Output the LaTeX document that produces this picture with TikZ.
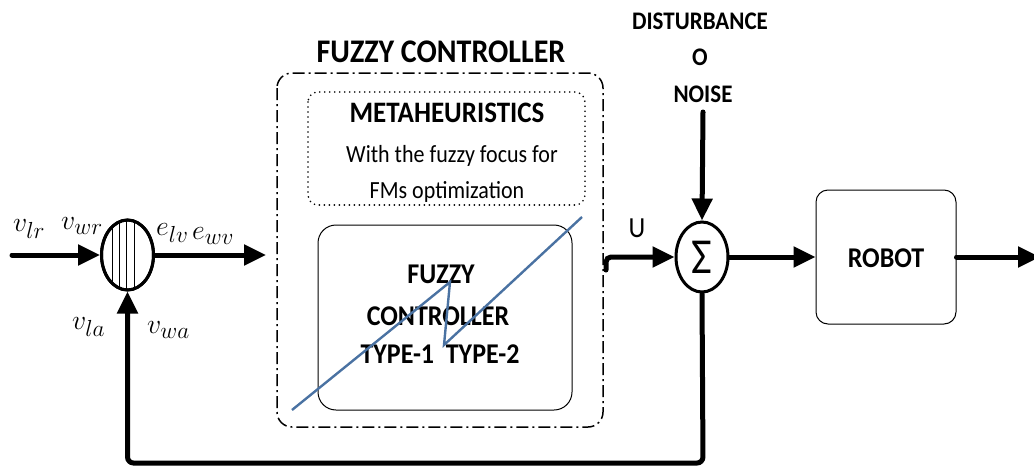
\documentclass[tikz,border=0pt]{standalone}
\usepackage{fontspec}
\setmainfont{Carlito}
\usetikzlibrary{arrows.meta,shapes.geometric}
\definecolor{zigblue}{RGB}{74,114,162}
\tikzset{
  flow/.style={line width=5pt, line cap=round, -{Triangle[length=22pt,width=20pt]}},
  junction/.style={ellipse, draw, line width=3pt, minimum width=52pt, minimum height=70pt, inner sep=0pt},
  sym/.style={font=\fontsize{24.88}{28}\selectfont, inner sep=0pt, scale=1.12, anchor=west},
  bigbold/.style={font=\bfseries\fontsize{#1}{#1}\selectfont, inner sep=0pt, anchor=base, yscale=1.1},
  plain/.style={font=\fontsize{#1}{#1}\selectfont, inner sep=0pt, anchor=base, yscale=1.12},
  groupbox/.style={line width=1.5pt, dash pattern=on 12pt off 4pt on 2pt off 4pt, rounded corners=15pt},
  metabox/.style={line width=1.8pt, line cap=round, dash pattern=on 0pt off 5pt, rounded corners=10pt},
  blockbox/.style={draw, line width=1pt, rounded corners=#1}
}
\begin{document}
\begin{tikzpicture}[x=1pt,y=-1pt]
\useasboundingbox (0,0) rectangle (1034,471);

% first summing junction with hatching
\node[junction] (sumA) at (127.5,255) {};
\begin{scope}
  \clip (127.5,255) ellipse (26pt and 35pt);
  \foreach \hx in {112,119,126,134}
    \draw[line width=1pt] (\hx,215) -- (\hx,295);
\end{scope}
\node[junction] at (127.5,255) {};

% second summing junction
\node[junction, font=\fontsize{36}{36}\selectfont] (sumB) at (702,257) {\scalebox{1.25}[1.4]{Σ}};

% controller group
\draw[groupbox] (277,73) rectangle (603,427);
\node[bigbold=30] (title) at (441,62) {FUZZY CONTROLLER};

\draw[metabox] (308,92) rectangle (585,205);
\node[bigbold=27] (meta) at (447,122) {METAHEURISTICS};
\node[plain=22] (meta2) at (452,162) {With the fuzzy focus for};
\node[plain=22] (meta3) at (447,198) {FMs optimization};

\draw[blockbox=18pt] (318,225) rectangle (572,410);
\node[bigbold=26] (fc1) at (441,283) {FUZZY};
\node[bigbold=26] (fc2) at (438,325) {CONTROLLER};
\node[bigbold=26] (fc3) at (440,363) {TYPE-1\ \ TYPE-2};
\coordinate (z0) at (292,410);
\coordinate (z1) at (450,282);
\coordinate (z2) at (444,345);
\coordinate (z3) at (582,217);
\draw[zigblue, line width=2.4pt, line join=miter] (z0) -- (z1) -- (z2) -- (z3);

% plant
\node[blockbox=12pt, minimum width=140pt, minimum height=134pt] (robot) at (886,257) {};
\node[bigbold=26] at (886,267) {ROBOT};

% disturbance
\node[bigbold=23] (dist) at (700,30) {DISTURBANCE};
\node[bigbold=23] (dO) at (700,65) {O};
\node[bigbold=23] (noise) at (703,102) {NOISE};
\coordinate (dtop) at (703,112);

% signal labels
\node[sym] (vlr) at (13,229) {$v_{lr}$};
\node[sym] (vwr) at (61,226) {$v_{wr}$};
\node[sym] (elv) at (156,233) {$e_{lv}$};
\node[sym] (ewv) at (192,236) {$e_{wv}$};
\node[sym] (vla) at (72,327) {$v_{la}$};
\node[sym] (vwa) at (147,330) {$v_{wa}$};
\node[plain=26] (U) at (637,237) {U};

% connectors
\coordinate (inA) at (12,255);
\coordinate (outA) at (266,255);
\coordinate (uStart) at (606,270);
\coordinate (outR) at (1040,257);
\coordinate (fbR) at (703,463);
\coordinate (fbL) at (127.5,463);

\draw[flow] (inA) -- (sumA.west);
\draw[flow] (sumA.east) -- (outA);
\draw[flow, rounded corners=5pt] (uStart) |- (sumB.west);
\draw[flow] (dtop) -- (sumB.north);
\draw[flow] (sumB.east) -- (robot.west);
\draw[flow] (robot.east) -- (outR);
\draw[flow, rounded corners=6pt] (sumB.south) -- (fbR) -- (fbL) -- (sumA.south);
\end{tikzpicture}
\end{document}
